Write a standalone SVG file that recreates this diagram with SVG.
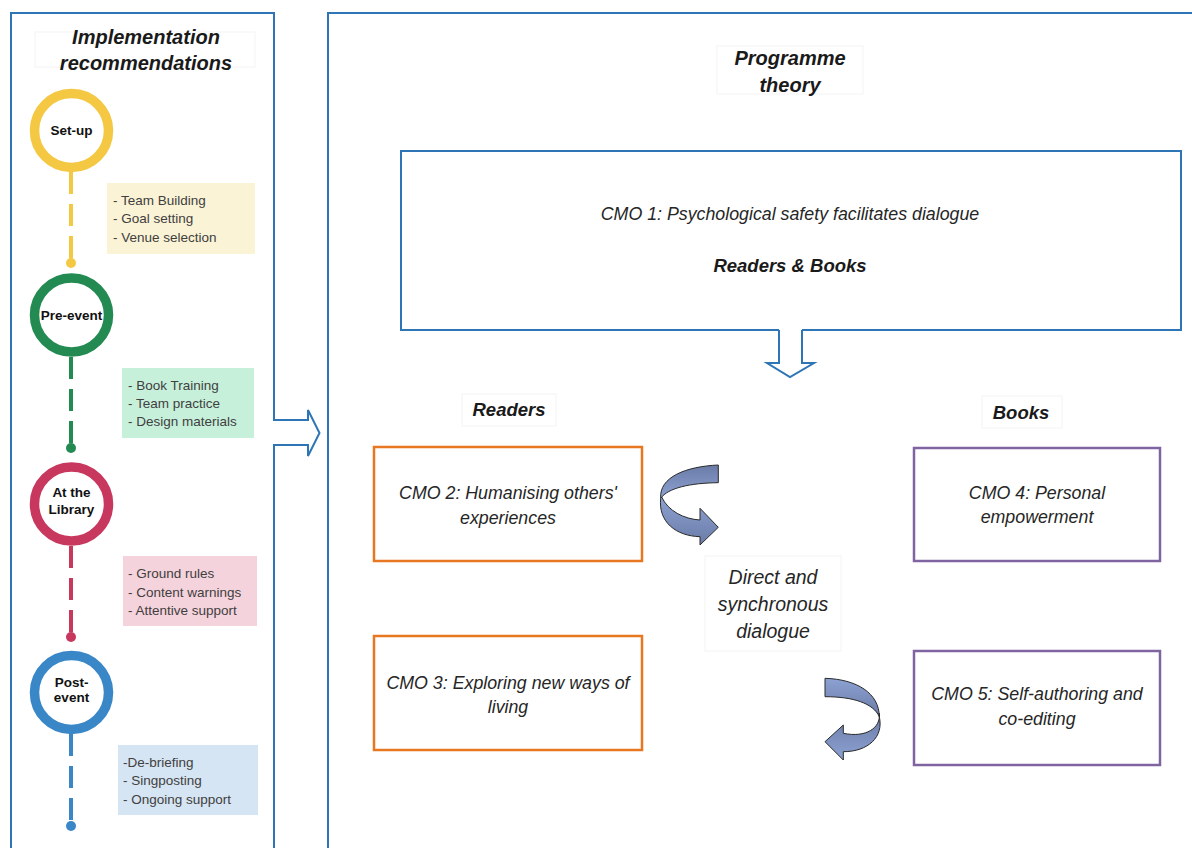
<svg xmlns="http://www.w3.org/2000/svg" width="1192" height="848" viewBox="0 0 1192 848">
<defs>
<style>
.panel{fill:none;stroke:#2E75B6;stroke-width:2}
.title{font-family:"Liberation Sans",Arial,sans-serif;font-weight:bold;font-style:italic;font-size:20px;fill:#1a1a1a;text-anchor:middle}
.faint{fill:#fff;stroke:#f4f4f4;stroke-width:1}
.lbl{font-family:"Liberation Sans",Arial,sans-serif;font-weight:bold;font-size:13.5px;fill:#111;text-anchor:middle}
.list{font-family:"Liberation Sans",Arial,sans-serif;font-size:13.5px;fill:#404040}
.cmo{font-family:"Liberation Sans",Arial,sans-serif;font-style:italic;font-size:17.8px;fill:#262626;text-anchor:middle}
.orange{fill:#fff;stroke:#E87722;stroke-width:2.5}
.purple{fill:#fff;stroke:#8064A2;stroke-width:2.5}
.ribbon{stroke:#2a2a2a;stroke-width:1;stroke-linejoin:round}
</style>
<linearGradient id="gA" x1="0" y1="0" x2="0" y2="1">
<stop offset="0" stop-color="#6A7BA6"/>
<stop offset="1" stop-color="#8DA2D3"/>
</linearGradient>
<linearGradient id="gB" x1="0" y1="0" x2="0" y2="1">
<stop offset="0" stop-color="#8DA2D3"/>
<stop offset="1" stop-color="#6A7BA6"/>
</linearGradient>
</defs>
<rect width="1192" height="848" fill="#fff"/>

<g id="left-panel">
<path class="panel" d="M11,852 L11,13 L274,13 L274,420 L308,420 L308,410 L319.5,433 L308,456 L308,445 L274,445 L274,852"/>
<rect class="faint" x="35" y="32" width="220" height="35"/>
<text class="title" x="146" y="44">Implementation</text>
<text class="title" x="146" y="70">recommendations</text>
</g>

<g id="right-panel">
<path class="panel" d="M328,852 L328,13 L1196,13"/>
<rect class="faint" x="717" y="46" width="146" height="48"/>
<text class="title" x="790" y="65">Programme</text>
<text class="title" x="790" y="92">theory</text>
</g>

<g id="connectors">
<g stroke-width="4" stroke-dasharray="22,10">
<line x1="71" y1="172" x2="71" y2="263" stroke="#F4C842"/>
<line x1="71" y1="357" x2="71" y2="448" stroke="#238A52"/>
<line x1="71" y1="546" x2="71" y2="637" stroke="#C8385E"/>
<line x1="71" y1="734" x2="71" y2="826" stroke="#3A87C8"/>
</g>
<circle cx="71" cy="263" r="5" fill="#F4C842"/>
<circle cx="71" cy="448" r="5" fill="#238A52"/>
<circle cx="71" cy="637" r="5" fill="#C8385E"/>
<circle cx="71" cy="826" r="5" fill="#3A87C8"/>
</g>

<g id="setup">
<circle cx="71.5" cy="130.5" r="37" fill="#fff" stroke="#F4C842" stroke-width="9.5"/>
<text class="lbl" x="71.5" y="135">Set-up</text>
<rect x="107" y="183" width="148" height="71" fill="#FBF3D6"/>
<text class="list" x="113" y="204.5">- Team Building</text>
<text class="list" x="113" y="222.5">- Goal setting</text>
<text class="list" x="113" y="241.5">- Venue selection</text>
</g>

<g id="pre-event">
<circle cx="71.5" cy="315" r="37" fill="#fff" stroke="#238A52" stroke-width="9.5"/>
<text class="lbl" x="71.5" y="319.5">Pre-event</text>
<rect x="122" y="368" width="132" height="70" fill="#C7F0DB"/>
<text class="list" x="128" y="389.5">- Book Training</text>
<text class="list" x="128" y="407.5">- Team practice</text>
<text class="list" x="128" y="425.5">- Design materials</text>
</g>

<g id="library">
<circle cx="71.5" cy="504" r="37" fill="#fff" stroke="#C8385E" stroke-width="9.5"/>
<text class="lbl" x="71.5" y="497">At the</text>
<text class="lbl" x="71.5" y="514">Library</text>
<rect x="123" y="556" width="134" height="70" fill="#F5D3DC"/>
<text class="list" x="128" y="577.5">- Ground rules</text>
<text class="list" x="128" y="596.5">- Content warnings</text>
<text class="list" x="128" y="614.5">- Attentive support</text>
</g>

<g id="post-event">
<circle cx="71.5" cy="692.5" r="37" fill="#fff" stroke="#3A87C8" stroke-width="9.5"/>
<text class="lbl" x="71.5" y="687">Post-</text>
<text class="lbl" x="71.5" y="702">event</text>
<rect x="118" y="745" width="140" height="70" fill="#D6E5F3"/>
<text class="list" x="123" y="766.5">-De-briefing</text>
<text class="list" x="123" y="784.5">- Singposting</text>
<text class="list" x="123" y="803.5">- Ongoing support</text>
</g>

<g id="cmo1">
<rect x="401" y="151" width="780" height="179" fill="#fff" stroke="#2E75B6" stroke-width="2"/>
<text class="cmo" x="790" y="220">CMO 1: Psychological safety facilitates dialogue</text>
<text class="title" x="790" y="272" style="font-size:18.5px">Readers &amp; Books</text>
<path d="M779,329 L779,363 L767,363 L790,377 L814,363 L802,363 L802,329 Z" fill="#fff"/>
<path d="M779,330 L779,363 L767,363 L790,377 L814,363 L802,363 L802,330" fill="none" stroke="#2E75B6" stroke-width="2"/>
</g>

<g id="readers-label">
<rect class="faint" x="462" y="394" width="94" height="32"/>
<text class="title" x="509" y="416" style="font-size:18.5px">Readers</text>
</g>
<g id="books-label">
<rect class="faint" x="982" y="396" width="80" height="32"/>
<text class="title" x="1021" y="419" style="font-size:18.5px">Books</text>
</g>

<g id="cmo2">
<rect class="orange" x="374" y="447" width="268" height="114"/>
<text class="cmo" x="508" y="499">CMO 2: Humanising others'</text>
<text class="cmo" x="508" y="524">experiences</text>
</g>
<g id="cmo3">
<rect class="orange" x="374" y="636" width="268" height="114"/>
<text class="cmo" x="508" y="689">CMO 3: Exploring new ways of</text>
<text class="cmo" x="508" y="713">living</text>
</g>
<g id="cmo4">
<rect class="purple" x="914" y="448" width="246" height="113"/>
<text class="cmo" x="1037" y="499">CMO 4: Personal</text>
<text class="cmo" x="1037" y="523">empowerment</text>
</g>
<g id="cmo5">
<rect class="purple" x="914" y="651" width="246" height="114"/>
<text class="cmo" x="1037" y="700">CMO 5: Self-authoring and</text>
<text class="cmo" x="1037" y="725">co-editing</text>
</g>

<g id="dialogue">
<rect class="faint" x="705" y="556" width="136" height="95"/>
<text class="cmo" x="773" y="584" style="font-size:19.5px">Direct and</text>
<text class="cmo" x="773" y="611" style="font-size:19.5px">synchronous</text>
<text class="cmo" x="773" y="638" style="font-size:19.5px">dialogue</text>
</g>

<g id="cycle-arrows">
<path class="ribbon" fill="url(#gA)" d="M718.3,465 C686,466.5 659,477 660.7,498.3 C668,488 690,483 718.3,482.7 Z"/>
<path class="ribbon" fill="url(#gB)" d="M661.7,497 C668,511 684,519 700,520 L700,508.3 L718.3,527.3 L700,545 L700,536.7 C676,536 658,522 660.7,498.3 Z"/>
<path class="ribbon" fill="url(#gB)" d="M825,678.3 C857,679.3 879.3,693.3 879.3,716.7 C873.3,703.3 853.3,696.7 825,696.7 Z"/>
<path class="ribbon" fill="url(#gA)" d="M879.3,713.3 C881,728 866,738 843.3,733.3 L843.3,725 L825,741.7 L843.3,760 L843.3,751.7 C868,751.7 884,737 879.3,716.7 Z"/>
</g>
</svg>
